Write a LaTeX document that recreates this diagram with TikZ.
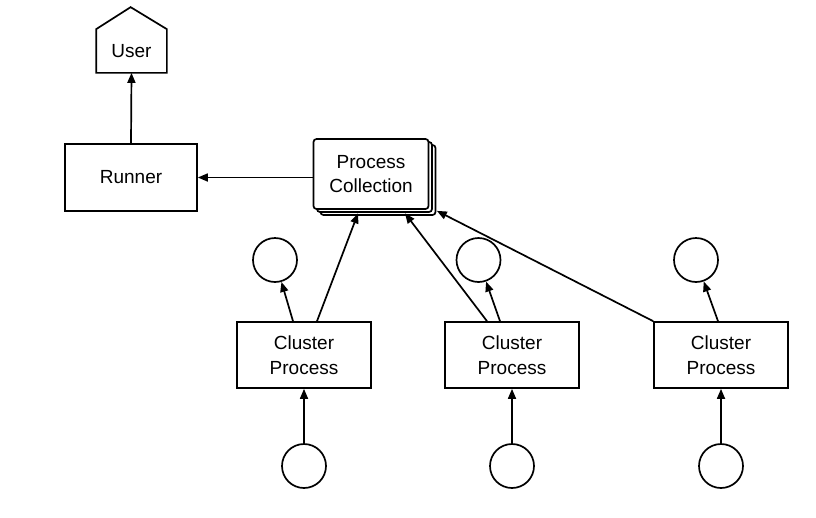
\documentclass[tikz,border=0pt]{standalone}
\usepackage{fontspec}
\setmainfont{Liberation Sans}
\usetikzlibrary{arrows.meta,shadows}
\begin{document}
\begin{tikzpicture}[x=1pt,y=-1pt,
  line width=1.7pt,
  every node/.style={font=\fontsize{19}{24.5}\selectfont, align=center},
  box/.style={draw, rectangle, minimum width=134pt, minimum height=66pt, inner sep=0pt},
  stackbox/.style={draw, fill=white, rounded corners=3pt, minimum width=115pt, minimum height=70pt,
    inner sep=0pt, double copy shadow={shadow xshift=3.5pt, shadow yshift=-3pt}},
  dot/.style={draw, circle, minimum size=44pt, inner sep=0pt},
  arr/.style={-{Triangle[length=10pt,width=8pt]}}
]
\useasboundingbox (0,0) rectangle (816,517);

% user (house outline drawn around an invisible node)
\node[minimum width=69pt, minimum height=42pt, inner sep=0pt] (user) at (131.5,51) {User};
\draw[line join=miter] (user.south west) -- (user.north west) -- ++(34.5,-22) -- (user.north east)
  -- (user.south east) -- cycle;

\node[box, minimum width=132pt, minimum height=67pt] (runner) at (131,177.5) {Runner};
\node[stackbox] (pc) at (371,174) {Process\\Collection};

\node[box] (c1) at (304,355) {Cluster\\Process};
\node[box] (c2) at (512,355) {Cluster\\Process};
\node[box] (c3) at (721,355) {Cluster\\Process};

\node[dot] (t1) at (275,260) {};
\node[dot] (t2) at (478.5,260) {};
\node[dot] (t3) at (696,260) {};

\node[dot] (b1) at (304,466) {};
\node[dot] (b2) at (512,466) {};
\node[dot] (b3) at (721,466) {};

% connectors
\draw[arr] (runner.north) -- (user.south);
\draw[arr] (pc.west |- runner.east) -- (runner.east);

\draw[arr] ([xshift=13pt]c1.north) -- ([xshift=-13pt,yshift=-3.5pt]pc.south);
\draw[arr] ([xshift=-25pt]c2.north) -- ([xshift=34pt,yshift=-3.5pt]pc.south);
\draw[arr] (c3.north west) -- ([xshift=7.5pt,yshift=-1pt]pc.south east);

\draw[arr] ([xshift=-11pt]c1.north) -- (t1);
\draw[arr] ([xshift=-12pt]c2.north) -- (t2);
\draw[arr] ([xshift=-3pt]c3.north) -- (t3);

\draw[arr] (b1) -- (c1.south);
\draw[arr] (b2) -- (c2.south);
\draw[arr] (b3) -- (c3.south);
\end{tikzpicture}
\end{document}
